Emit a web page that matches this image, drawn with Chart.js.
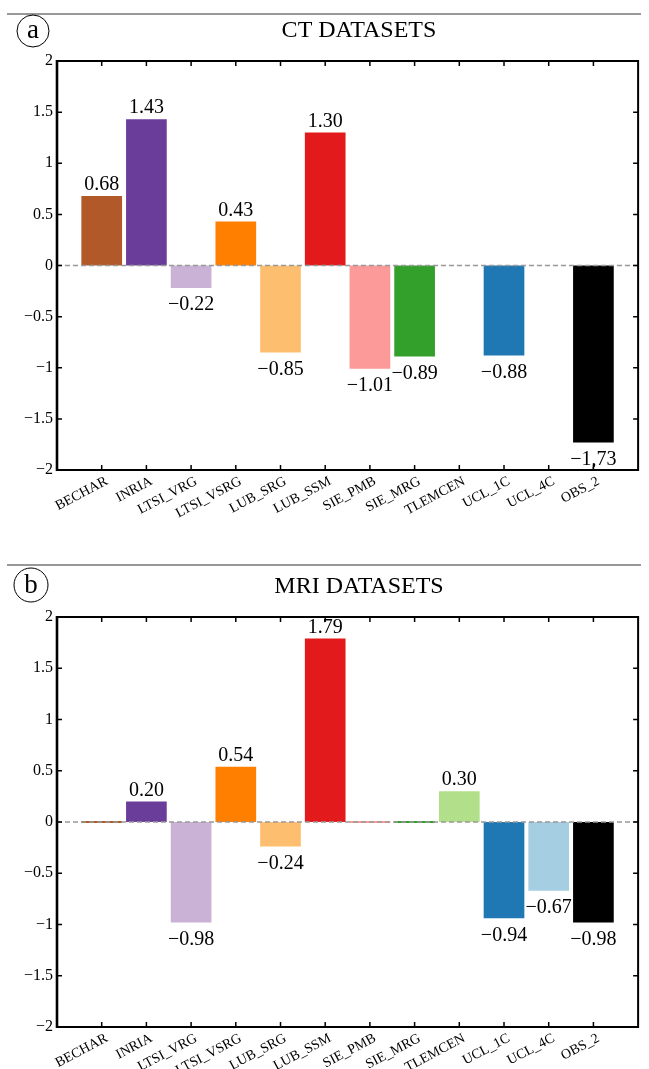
<!DOCTYPE html>
<html><head><meta charset="utf-8">
<script src="https://cdn.jsdelivr.net/npm/chart.js@4.4.1/dist/chart.umd.min.js"></script>
<style>
html,body{margin:0;padding:0;background:#fff;overflow:hidden;}
#wrapA{position:absolute;left:0;top:0;width:649px;height:545px;}
#wrapB{position:absolute;left:0;top:545px;width:649px;height:524px;}
</style></head><body>
<div id="wrapA"><canvas id="ctChart"></canvas></div>
<div id="wrapB"><canvas id="mriChart"></canvas></div>
<script>
const categories = ['BECHAR','INRIA','LTSI_VRG','LTSI_VSRG','LUB_SRG','LUB_SSM','SIE_PMB','SIE_MRG','TLEMCEN','UCL_1C','UCL_4C','OBS_2'];
const barColors = ['#b15928','#6a3d9a','#cab2d6','#ff7f00','#fdbf6f','#e31a1c','#fb9a99','#33a02c','#b2df8a','#1f78b4','#a6cee3','#000000'];
const ctValues = [0.68, 1.43, -0.22, 0.43, -0.85, 1.30, -1.01, -0.89, null, -0.88, null, -1.73];
const ctValueLabels = ['0.68','1.43','\u22120.22','0.43','\u22120.85','1.30','\u22121.01','\u22120.89','','\u22120.88','','\u22121,73'];
const mriValues = [0, 0.20, -0.98, 0.54, -0.24, 1.79, 0, 0, 0.30, -0.94, -0.67, -0.98];
const mriValueLabels = ['','0.20','\u22120.98','0.54','\u22120.24','1.79','','','0.30','\u22120.94','\u22120.67','\u22120.98'];
const yMin = -2, yMax = 2, yStep = 0.5;
const panelTitles = ['CT DATASETS', 'MRI DATASETS'];
const panelLetters = ['a', 'b'];

const SERIF = "'Liberation Serif','Times New Roman',Times,serif";

function fmtY(v) {
  if (Math.abs(v) < 1e-9) return '0';
  return (v < 0 ? '\u2212' : '') + String(Math.abs(v));
}

function makePanel(canvasId, values, valueLabels, title, letter, geom) {
  const points = categories.map((c, i) => ({ x: i + 1, y: values[i] }));
  const decor = {
    id: 'decor' + canvasId,
    afterDatasetsDraw(chart) {
      const ctx = chart.ctx;
      const ca = chart.chartArea;
      const xs = chart.scales.x, ys = chart.scales.y;
      ctx.save();
      // zero dashed line
      const y0 = ys.getPixelForValue(0);
      ctx.strokeStyle = '#999999';
      ctx.lineWidth = 1.3;
      ctx.setLineDash([5, 3]);
      ctx.beginPath(); ctx.moveTo(ca.left, y0); ctx.lineTo(ca.right, y0); ctx.stroke();
      ctx.setLineDash([]);
      // box
      ctx.strokeStyle = '#000';
      ctx.lineWidth = 2;
      ctx.strokeRect(ca.left, ca.top, ca.right - ca.left, ca.bottom - ca.top);
      ctx.lineWidth = 2.6;
      ctx.beginPath(); ctx.moveTo(ca.left, ca.top - 1); ctx.lineTo(ca.left, ca.bottom + 1); ctx.stroke();
      // inward ticks
      ctx.lineWidth = 1.5;
      const tl = 5;
      xs.ticks.forEach(t => {
        if (t.value < 1 || t.value > categories.length) return;
        const px = xs.getPixelForValue(t.value);
        ctx.beginPath();
        ctx.moveTo(px, ca.top); ctx.lineTo(px, ca.top + tl);
        ctx.moveTo(px, ca.bottom); ctx.lineTo(px, ca.bottom - tl);
        ctx.stroke();
      });
      ys.ticks.forEach(t => {
        const py = ys.getPixelForValue(t.value);
        ctx.beginPath();
        ctx.moveTo(ca.left, py); ctx.lineTo(ca.left + tl, py);
        ctx.moveTo(ca.right, py); ctx.lineTo(ca.right - tl, py);
        ctx.stroke();
      });
      // value labels
      ctx.fillStyle = '#000';
      ctx.font = '20px ' + SERIF;
      ctx.textAlign = 'center';
      ctx.textBaseline = 'alphabetic';
      const meta = chart.getDatasetMeta(0);
      meta.data.forEach((bar, i) => {
        const txt = valueLabels[i];
        const v = values[i];
        if (!txt || v === null) return;
        const props = bar.getProps(['x', 'y', 'base'], true);
        if (v >= 0) ctx.fillText(txt, props.x, props.y - 6);
        else ctx.fillText(txt, props.x, props.y + 22.5);
      });
      // header line, circle letter, title
      ctx.strokeStyle = '#333';
      ctx.lineWidth = 1.2;
      ctx.beginPath(); ctx.moveTo(7, geom.lineY); ctx.lineTo(641, geom.lineY); ctx.stroke();
      ctx.strokeStyle = '#000';
      ctx.lineWidth = 1;
      ctx.beginPath(); ctx.arc(geom.cx, geom.cy, geom.r, 0, Math.PI * 2); ctx.stroke();
      ctx.font = '27px ' + SERIF;
      ctx.fillText(letter, geom.cx, geom.letterBase);
      ctx.font = '24px ' + SERIF;
      ctx.fillText(title, 359, geom.titleBase);
      ctx.restore();
    }
  };
  return new Chart(document.getElementById(canvasId), {
    type: 'bar',
    data: {
      datasets: [{
        data: points,
        backgroundColor: barColors,
        borderWidth: 0,
        barPercentage: 1.0,
        categoryPercentage: 0.91,
        minBarLength: geom.minBar
      }]
    },
    options: {
      responsive: true,
      maintainAspectRatio: false,
      animation: false,
      layout: { padding: { top: geom.top, right: 8, left: 0, bottom: 0 } },
      plugins: { legend: { display: false }, tooltip: { enabled: false }, title: { display: false } },
      scales: {
        x: {
          type: 'linear',
          offset: false,
          min: 0, max: categories.length + 1,
          grid: { display: false, drawTicks: false, offset: false },
          border: { display: false },
          afterFit: s => { s.height = geom.xAxisH; },
          ticks: {
            stepSize: 1, autoSkip: false, minRotation: 28, maxRotation: 28, padding: 3, labelOffset: 5,
            color: '#000', font: { family: SERIF, size: 14 },
            callback: v => (v >= 1 && v <= categories.length) ? categories[v - 1] : ''
          }
        },
        y: {
          min: yMin, max: yMax,
          grid: { display: false, drawTicks: false },
          border: { display: false },
          afterFit: s => { s.width = 57; },
          ticks: {
            stepSize: yStep, padding: 4, color: '#000',
            font: { family: SERIF, size: 16 },
            callback: v => fmtY(v)
          }
        }
      }
    },
    plugins: [decor]
  });
}

makePanel('ctChart', ctValues, ctValueLabels, panelTitles[0], panelLetters[0],
  { top: 61, xAxisH: 545 - 470, lineY: 14, cx: 33, cy: 31, r: 16, letterBase: 38, titleBase: 37, minBar: 0 });
makePanel('mriChart', mriValues, mriValueLabels, panelTitles[1], panelLetters[1],
  { top: 72, xAxisH: 524 - 482, lineY: 20, cx: 31, cy: 40, r: 17, letterBase: 48, titleBase: 48, minBar: 2 });
</script>
</body></html>
